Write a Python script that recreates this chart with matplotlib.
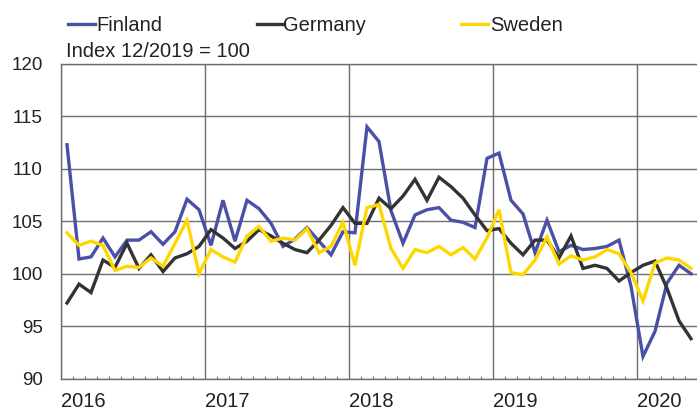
import matplotlib
matplotlib.use("Agg")
import matplotlib.pyplot as plt
from matplotlib.lines import Line2D
import numpy as np

plt.rcParams['font.family'] = ['Liberation Sans', 'DejaVu Sans']

# Monthly index values, Jan 2016 - May 2020 (12/2019 = 100)
finland = [112.3, 101.4, 101.6, 103.4, 101.6, 103.2, 103.2, 104.0, 102.8, 104.0, 107.1, 106.1,
           102.7, 107.0, 103.1, 107.0, 106.2, 104.8, 102.6, 103.3, 104.4, 103.1, 101.8, 104.0,
           103.9, 114.0, 112.6, 106.0, 102.9, 105.6, 106.1, 106.3, 105.1, 104.9, 104.4, 111.0,
           111.5, 107.0, 105.7, 102.0, 105.1, 102.1, 102.7, 102.3, 102.4, 102.6, 103.2, 98.8,
           92.1, 94.5, 99.1, 100.8, 100.0]
germany = [97.2, 99.0, 98.2, 101.3, 100.6, 102.9, 100.5, 101.8, 100.2, 101.5, 101.9, 102.6,
           104.2, 103.4, 102.4, 103.1, 104.2, 103.6, 102.9, 102.3, 102.0, 103.2, 104.6, 106.3,
           104.8, 104.8, 107.2, 106.2, 107.4, 109.0, 107.0, 109.2, 108.3, 107.2, 105.6, 104.1,
           104.3, 102.9, 101.8, 103.2, 103.2, 101.5, 103.6, 100.5, 100.8, 100.5, 99.3, 100.1,
           100.8, 101.2, 98.6, 95.5, 93.8]
sweden = [103.9, 102.7, 103.1, 102.7, 100.3, 100.7, 100.6, 101.5, 100.7, 102.9, 105.1, 100.0,
          102.3, 101.6, 101.1, 103.6, 104.5, 103.1, 103.4, 103.2, 104.3, 102.0, 102.6, 104.9,
          100.8, 106.3, 106.6, 102.4, 100.5, 102.3, 102.0, 102.6, 101.8, 102.5, 101.4, 103.4,
          106.1, 100.1, 99.9, 101.3, 103.5, 100.9, 101.7, 101.3, 101.6, 102.3, 101.9, 100.1,
          97.4, 101.0, 101.5, 101.3, 100.5]
years = ['2016', '2017', '2018', '2019', '2020']
series_names = ['Finland', 'Germany', 'Sweden']
colors = ['#4A50A6', '#333333', '#FFD700']
yticks = [90, 95, 100, 105, 110, 115, 120]

W, H = 697, 412
fig = plt.figure(figsize=(W / 100, H / 100), dpi=100)
ax = fig.add_axes([61 / W, 1 - 378.5 / H, 636 / W, (378.5 - 64) / H])

x = np.arange(len(finland)) + 0.5
for vals, c in zip([finland, germany, sweden], colors):
    ax.plot(x, vals, color=c, lw=2.4, solid_joinstyle='miter', zorder=3)

ax.set_xlim(0, 53)
ax.set_ylim(90, 120)
ax.set_yticks(yticks)
ax.set_yticklabels([str(v) for v in yticks])
ax.set_xticks([12 * i for i in range(len(years))])
ax.set_xticklabels(years, ha='left')
ax.set_xticks(np.arange(0, 54, 1), minor=True)

grid_c = '#6e6e6e'
ax.grid(True, which='major', color=grid_c, lw=1.0, zorder=1)
for s in ['left', 'bottom', 'top']:
    ax.spines[s].set_color(grid_c)
    ax.spines[s].set_linewidth(1.0)
ax.spines['right'].set_visible(False)

ax.tick_params(axis='y', length=0, pad=13, labelsize=13.5, labelcolor='#222222')
ax.tick_params(axis='x', which='major', length=0, pad=10, labelsize=14.5, labelcolor='#222222')
ax.tick_params(axis='x', which='minor', direction='in', length=2.3, width=0.8, color=grid_c)

# Legend (manual)
legend_pos = [(67.7, 96.7), (256.7, 283.5), (460.7, 490.0)]
for (hx, tx), name, c in zip(legend_pos, series_names, colors):
    fig.add_artist(Line2D([hx / W, (hx + 27) / W], [1 - 24 / H, 1 - 24 / H],
                          color=c, lw=2.4, transform=fig.transFigure))
    fig.text(tx / W, 1 - 30.7 / H, name, fontsize=14.5, color='#222222',
             ha='left', va='baseline')

fig.text(65.5 / W, 1 - 57.3 / H, 'Index 12/2019 = 100', fontsize=14.5, color='#222222',
         ha='left', va='baseline')

fig.savefig('out.png', dpi=100)
